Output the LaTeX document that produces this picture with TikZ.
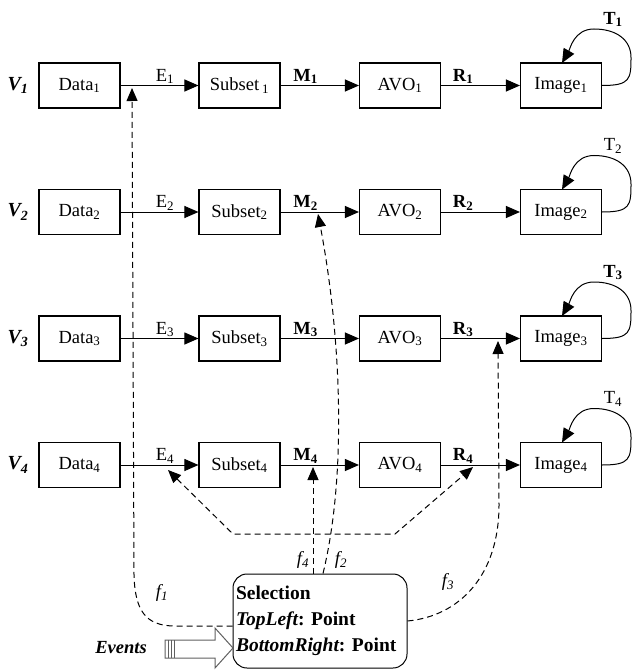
\documentclass[tikz,border=0pt]{standalone}
\usepackage{fontspec}
\setmainfont{Liberation Serif}
\usetikzlibrary{arrows.meta}
\frenchspacing
\begin{document}
\begin{tikzpicture}[x=1pt,y=-1pt,
  font=\fontsize{18.5}{22}\selectfont,
  box/.style={draw,line width=1.1pt,minimum width=81pt,minimum height=45pt,inner sep=0pt},
  flow/.style={line width=1pt,-{Triangle[length=14pt,width=12pt]}},
  dsh/.style={line width=1pt,dash pattern=on 6pt off 4pt},
  darr/.style={dsh,-{Triangle[length=13pt,width=11pt]}},
  lbl/.style={inner sep=1pt},
  loopl/.style={line width=1pt,-{Triangle[length=14pt,width=12pt]}}
]
\useasboundingbox (0,0) rectangle (633,671);

% rows
\foreach \r/\y/\tb/\sp in {1/85.5/\bfseries/{\,},2/212/{}/{},3/338.5/\bfseries/{},4/465/{}/{}}{
  \node[box] (d\r) at (79.5,\y) {Data\textsubscript{\r}};
  \node[box] (s\r) at (239.5,\y) {Subset\sp\textsubscript{\r}};
  \node[box] (a\r) at (400,\y) {AVO\textsubscript{\r}};
  \node[box] (i\r) at (561,\y) {Image\textsubscript{\r}};
  \node (v\r) at (18,\y) {\fontsize{20}{22}\selectfont\bfseries\itshape V\textsubscript{\r}};
  \draw[flow] (d\r) -- node[lbl,pos=0.57,above]{E\textsubscript{\r}} (s\r);
  \draw[flow] (s\r) -- node[lbl,pos=0.32,above]{\bfseries M\textsubscript{\r}} (a\r);
  \draw[flow] (a\r) -- node[lbl,pos=0.28,above]{\bfseries R\textsubscript{\r}} (i\r);
  \coordinate (lr\r) at (631,\y-28);
  \coordinate (lt\r) at (594,\y-56.5);
  \coordinate (ie\r) at (562,\y-22.5);
  \draw[loopl] (i\r.east) .. controls +(28,0) and +(0,22) .. (lr\r)
     .. controls +(0,-18) and +(22,0) .. (lt\r)
     .. controls +(-20,0) and +(8,-14) .. (ie\r);
  \node (t\r) at (613,\y-66) {{\tb T\textsubscript{\r}}};
}

% selection box
\node[draw,line width=1pt,rounded corners=14pt,minimum width=174pt,minimum height=94pt,
      align=left,text width=168pt,inner sep=3pt,font=\fontsize{19.5}{26}\selectfont\bfseries] (sel) at (320,621)
  {Selection\\ {\itshape TopLeft}: Point\\ {\itshape BottomRight}: Point};

% dashed connectors
\coordinate (p1) at (132,88);
\coordinate (p2) at (318,214);
\coordinate (p3) at (498,341);
\coordinate (p4) at (313,467);
\coordinate (pe) at (168,470);
\coordinate (pr) at (473,467);

\draw[darr] ([yshift=-5pt]sel.west) -- (175,626) .. controls (145,626) and (135,610) .. (134,575) -- (p1);
\draw[darr] ([xshift=3pt]sel.north) .. controls (348,470) and (340,330) .. (p2);
\draw[darr] (sel.east) .. controls (460,616) and (499,575) .. (499,505) -- (p3);
\draw[darr] ([xshift=-7pt]sel.north) -- (p4);
\draw[dsh,{Triangle[length=13pt,width=11pt]}-{Triangle[length=13pt,width=11pt]}] (pe) -- (233,534) -- (395,534) -- (pr);

\node (f1) at (162,593) {\itshape f\textsubscript{1}};
\node (f2) at (341,560) {\itshape f\textsubscript{2}};
\node (f3) at (448,582) {\itshape f\textsubscript{3}};
\node (f4) at (303,560) {\itshape f\textsubscript{4}};

% events arrow
\node (ev) at (121,648) {\bfseries\itshape Events};
\draw[gray!75!black,line width=1pt] (165,640) -- (215,640) -- (215,628) -- (233,648) -- (215,668) -- (215,658) -- (165,658) -- cycle;
\foreach \xx in {168,171,174} \draw[gray!75!black,line width=0.9pt] (\xx,640) -- (\xx,658);
\end{tikzpicture}
\end{document}
